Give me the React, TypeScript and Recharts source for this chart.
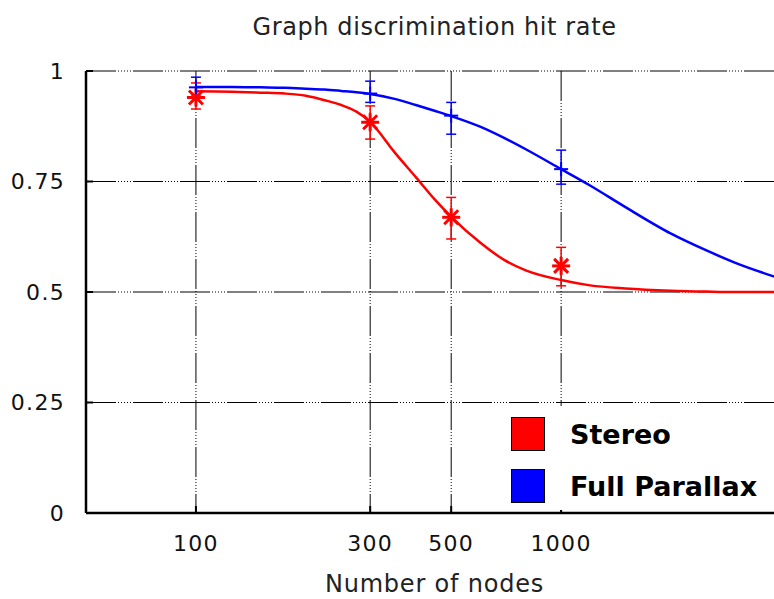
import { CartesianGrid, ComposedChart, ErrorBar, Legend, Line, Scatter, XAxis, YAxis } from 'recharts';

// fitted curves
const fitNodes = [100, 125, 150, 175, 200, 225, 250, 275, 300, 350, 400, 450, 500, 600, 700, 800, 1000, 1200, 1500, 2000, 2500, 3000, 4000];
const stereoFit = [0.954, 0.953, 0.951, 0.949, 0.944, 0.934, 0.923, 0.908, 0.885, 0.816, 0.76, 0.71, 0.67, 0.612, 0.572, 0.549, 0.527, 0.515, 0.508, 0.503, 0.501, 0.5, 0.5];
const parallaxFit = [0.964, 0.964, 0.963, 0.962, 0.96, 0.958, 0.955, 0.952, 0.948, 0.937, 0.923, 0.91, 0.898, 0.874, 0.848, 0.823, 0.778, 0.741, 0.692, 0.632, 0.594, 0.566, 0.53];

// measured hit rates with [down, up] error
const measuredNodes = [100, 300, 500, 1000];
const stereoHits = [0.94, 0.884, 0.669, 0.559];
const stereoErr = [[0.026, 0.033], [0.038, 0.037], [0.049, 0.045], [0.045, 0.042]];
const parallaxHits = [0.963, 0.949, 0.899, 0.778];
const parallaxErr = [[0.02, 0.023], [0.02, 0.028], [0.042, 0.03], [0.034, 0.043]];

const seriesNames = ['Stereo', 'Full Parallax'];
const xTicks = [100, 300, 500, 1000];
const yTicks = [0, 0.25, 0.5, 0.75, 1];

const stereoLine = fitNodes.map((n, i) => ({ nodes: n, rate: stereoFit[i] }));
const parallaxLine = fitNodes.map((n, i) => ({ nodes: n, rate: parallaxFit[i] }));
const stereoPts = measuredNodes.map((n, i) => ({ nodes: n, rate: stereoHits[i], err: stereoErr[i] }));
const parallaxPts = measuredNodes.map((n, i) => ({ nodes: n, rate: parallaxHits[i], err: parallaxErr[i] }));

const FONT = '"DejaVu Sans", sans-serif';
const X_MARGIN = 30;
const Y_MARGIN = 21;

const XTick = ({ x, y, payload }: any) => (
  <g>
    <line x1={x} x2={x} y1={y - X_MARGIN} y2={y - X_MARGIN - 7} stroke="#000" strokeWidth={2} />
    <text x={x} y={y} dy="0.35em" textAnchor="middle" fill="#111" fontSize={22} fontFamily={FONT} style={{ letterSpacing: 1.3 }}>
      {payload.value}
    </text>
  </g>
);

const YTick = ({ x, y, payload }: any) => (
  <g>
    <line x1={x + Y_MARGIN} x2={x + Y_MARGIN + 7} y1={y} y2={y} stroke="#000" strokeWidth={2} />
    <text x={x} y={y} dy="0.35em" textAnchor="end" fill="#111" fontSize={22} fontFamily={FONT} style={{ letterSpacing: 1.3 }}>
      {payload.value}
    </text>
  </g>
);

const Asterisk = ({ cx, cy }: any) => (
  <g stroke="#ff0000" strokeWidth={3}>
    <line x1={cx} x2={cx} y1={cy - 9} y2={cy + 9} />
    <line x1={cx - 9} x2={cx + 9} y1={cy} y2={cy} />
    <line x1={cx - 7} x2={cx + 7} y1={cy - 7} y2={cy + 7} />
    <line x1={cx - 7} x2={cx + 7} y1={cy + 7} y2={cy - 7} />
  </g>
);

const Plus = ({ cx, cy }: any) => (
  <g stroke="#0000ff" strokeWidth={2}>
    <line x1={cx} x2={cx} y1={cy - 7} y2={cy + 7} />
    <line x1={cx - 7} x2={cx + 7} y1={cy} y2={cy} />
  </g>
);

const LegendBox = ({ payload }: any) => {
  const items = (payload || [])
    .filter((e: any) => seriesNames.includes(e.value))
    .sort((a: any, b: any) => seriesNames.indexOf(a.value) - seriesNames.indexOf(b.value));
  return (
    <div style={{ background: '#fff', width: '100%', height: '100%', paddingTop: 2, paddingLeft: 16, boxSizing: 'border-box' }}>
      {items.map((entry: any) => (
        <div key={entry.value} style={{ display: 'flex', alignItems: 'center', height: 52 }}>
          <span style={{ display: 'inline-block', width: 32, height: 32, background: entry.color, border: '1px solid #000' }} />
          <span style={{ marginLeft: 25, fontWeight: 'bold', fontSize: 27, fontFamily: FONT, color: '#000' }}>{entry.value}</span>
        </div>
      ))}
    </div>
  );
};

export default function App() {
  return (
    <div style={{ position: 'absolute', left: 0, top: 0, width: 774, height: 599, overflow: 'hidden', background: '#fff', fontFamily: FONT }}>
      <div style={{ position: 'absolute', left: 0, top: 13, width: 869, textAlign: 'center', fontSize: 24, lineHeight: '28px', color: '#222', letterSpacing: 0.6 }}>
        Graph discrimination hit rate
      </div>
      <ComposedChart width={800} height={599} margin={{ top: 71, right: 19, bottom: 0, left: 0 }}>
        <CartesianGrid stroke="#000" strokeWidth={1} strokeDasharray="30 2 1 2 1 2 1 2 1 2 1 2" />
        <XAxis
          dataKey="nodes"
          type="number"
          scale="log"
          domain={[50, 4000]}
          allowDataOverflow
          ticks={xTicks}
          height={86}
          axisLine={{ stroke: '#000', strokeWidth: 2.5 }}
          tickLine={false}
          tickSize={0}
          tickMargin={X_MARGIN}
          tick={(p: any) => <XTick {...p} />}
        />
        <XAxis
          xAxisId="top"
          orientation="top"
          type="number"
          scale="log"
          domain={[50, 4000]}
          allowDataOverflow
          ticks={xTicks}
          height={0}
          mirror
          tick={false}
          tickSize={7}
          tickLine={{ stroke: '#000', strokeWidth: 2 }}
          axisLine={{ stroke: '#000', strokeWidth: 2.5 }}
        />
        <YAxis
          dataKey="rate"
          type="number"
          domain={[0, 1]}
          ticks={yTicks}
          width={86}
          axisLine={{ stroke: '#000', strokeWidth: 2.5 }}
          tickLine={false}
          tickSize={0}
          tickMargin={Y_MARGIN}
          tick={(p: any) => <YTick {...p} />}
        />
        <Line data={stereoLine} dataKey="rate" name="Stereo" stroke="#ff0000" strokeWidth={2.5} type="monotone" dot={false} activeDot={false} isAnimationActive={false} />
        <Line data={parallaxLine} dataKey="rate" name="Full Parallax" stroke="#0000ff" strokeWidth={2.5} type="monotone" dot={false} activeDot={false} isAnimationActive={false} />
        <Scatter data={stereoPts} dataKey="rate" name="stereo points" legendType="none" shape={(p: any) => <Asterisk {...p} />} isAnimationActive={false}>
          <ErrorBar dataKey="err" direction="y" width={5} stroke="#ff0000" strokeWidth={1.5} isAnimationActive={false} />
        </Scatter>
        <Scatter data={parallaxPts} dataKey="rate" name="parallax points" legendType="none" shape={(p: any) => <Plus {...p} />} isAnimationActive={false}>
          <ErrorBar dataKey="err" direction="y" width={5} stroke="#0000ff" strokeWidth={1.5} isAnimationActive={false} />
        </Scatter>
        <Legend
          layout="vertical"
          align="center"
          verticalAlign="middle"
          content={<LegendBox />}
          wrapperStyle={{ left: 495, top: 406, width: 290, height: 104, margin: 0 }}
        />
      </ComposedChart>
      <div style={{ position: 'absolute', left: 0, top: 570, width: 869, textAlign: 'center', fontSize: 24, lineHeight: '28px', color: '#222', letterSpacing: 0.8 }}>
        Number of nodes
      </div>
    </div>
  );
}
